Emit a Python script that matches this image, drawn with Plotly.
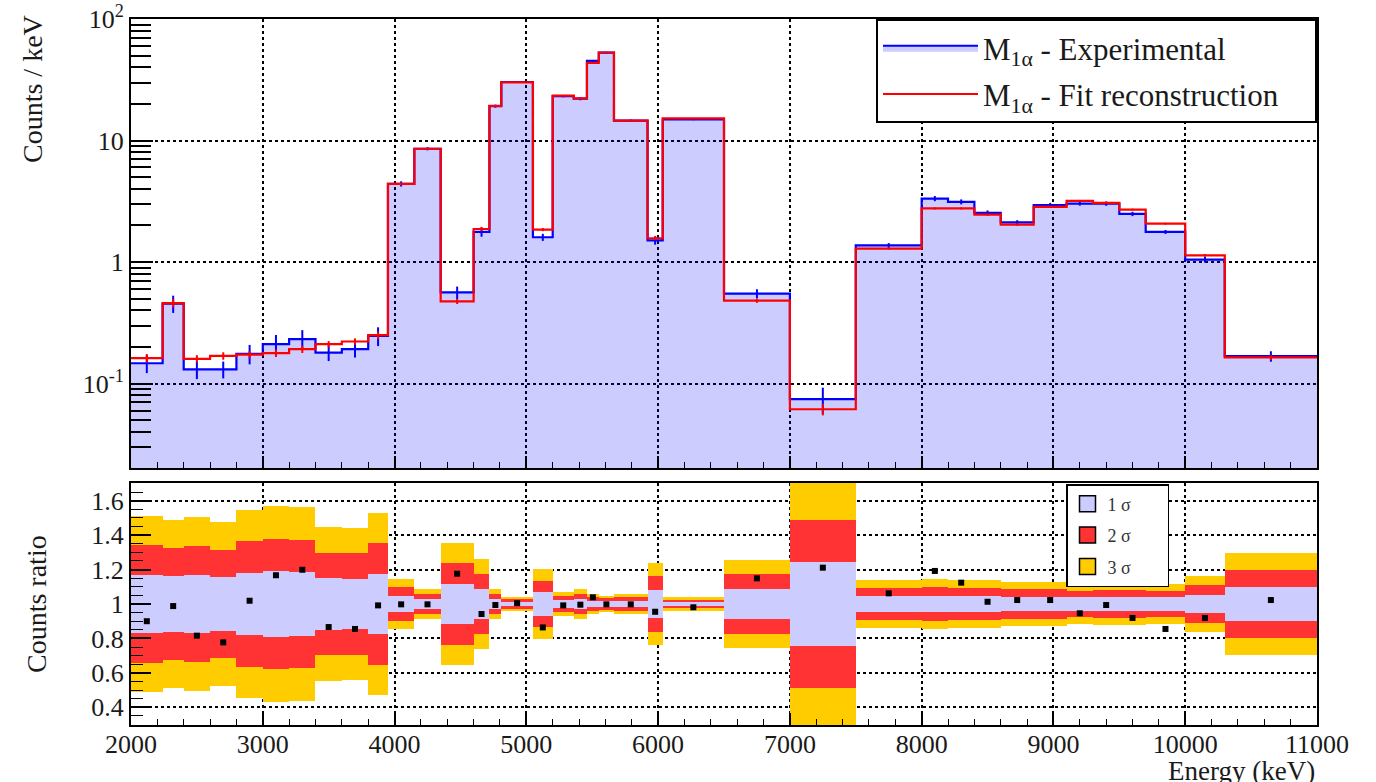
import numpy as np
import plotly.graph_objects as go

# ---------------- data ----------------
bin_edges = [2000, 2240, 2400, 2600, 2800, 3000, 3200, 3400, 3600, 3800, 3950,
             4150, 4350, 4600, 4720, 4810, 5050, 5200, 5360, 5460, 5550, 5665,
             5920, 6035, 6500, 7000, 7500, 8000, 8200, 8400, 8600, 8850, 9100,
             9300, 9500, 9700, 10000, 10300, 11000]

experimental = [0.147, 0.455, 0.131, 0.131, 0.176, 0.211, 0.232, 0.180, 0.192, 0.247,
                4.40, 8.56, 0.562, 1.77, 19.2, 30.3, 1.60, 23.2, 22.1, 45.2,
                52.9, 14.6, 1.51, 14.9, 0.550, 0.0744, 1.37, 3.33, 3.13, 2.54,
                2.12, 2.94, 3.03, 3.03, 2.49, 1.77, 1.047, 0.168]

fit_reco = [0.162, 0.460, 0.160, 0.169, 0.173, 0.178, 0.192, 0.211, 0.222, 0.250,
            4.40, 8.56, 0.475, 1.87, 19.3, 30.1, 1.85, 23.4, 22.2, 43.5,
            53.0, 14.6, 1.57, 15.2, 0.481, 0.0615, 1.29, 2.76, 2.76, 2.46,
            2.03, 2.84, 3.19, 3.07, 2.70, 2.07, 1.135, 0.164]

# relative 1-sigma uncertainty of each bin (half width of 1 sigma band)
sigma_rel = [0.170, 0.162, 0.169, 0.158, 0.182, 0.190, 0.187, 0.149, 0.147, 0.176,
             0.049, 0.030, 0.118, 0.087, 0.029, 0.014, 0.067, 0.023, 0.030, 0.019,
             0.016, 0.019, 0.080, 0.013, 0.086, 0.243, 0.046, 0.049, 0.047, 0.047,
             0.043, 0.043, 0.039, 0.041, 0.041, 0.038, 0.054, 0.098]

# relative uncertainty of the fit reconstruction
fit_err_rel = [0.08, 0.08, 0.07, 0.07, 0.07, 0.07, 0.07, 0.06, 0.06, 0.07,
               0.02, 0.015, 0.05, 0.04, 0.015, 0.007, 0.03, 0.01, 0.015, 0.01,
               0.008, 0.01, 0.035, 0.006, 0.04, 0.11, 0.02, 0.02, 0.02, 0.02,
               0.02, 0.02, 0.018, 0.018, 0.018, 0.017, 0.025, 0.045]

counts_ratio = [0.900, 0.988, 0.816, 0.777, 1.019, 1.167, 1.199, 0.866, 0.855, 0.992,
                0.998, 0.998, 1.176, 0.942, 0.994, 1.005, 0.864, 0.992, 0.996, 1.039,
                0.998, 0.998, 0.955, 0.981, 1.149, 1.211, 1.062, 1.192, 1.124, 1.013,
                1.023, 1.023, 0.946, 0.994, 0.919, 0.855, 0.919, 1.023]

x_ticks = [2000, 3000, 4000, 5000, 6000, 7000, 8000, 9000, 10000, 11000]
y_top_ticks = [0.1, 1, 10, 100]
y_top_labels = ["10<sup>-1</sup>", "1", "10", "10<sup>2</sup>"]
y_top_minor = [m * d for d in (0.01, 0.1, 1, 10) for m in range(2, 10)]
y_bot_ticks = [0.4, 0.6, 0.8, 1.0, 1.2, 1.4, 1.6]
y_bot_labels = ["0.4", "0.6", "0.8", "1", "1.2", "1.4", "1.6"]

# ---------------- derived ----------------
edges = np.array(bin_edges, dtype=float)
centers = 0.5 * (edges[:-1] + edges[1:])
widths = edges[1:] - edges[:-1]
exp_v = np.array(experimental)
fit_v = np.array(fit_reco)
sig = np.array(sigma_rel)

LAV = "#ccccff"
BLUE = "#0000ff"
RED = "#ff0000"
BAND_RED = "#ff3333"
GOLD = "#ffcc00"
FONT = "Liberation Serif, Times New Roman, Times, serif"
TXT = "#1a1a1a"
NB = "&nbsp;"

step_x = list(edges)
step_exp = list(exp_v) + [exp_v[-1]]
step_fit = list(fit_v) + [fit_v[-1]]

# filled polygon for experimental histogram
floor_val = 1e-3
px = [edges[0]]
py = [floor_val]
for i in range(len(exp_v)):
    px += [edges[i], edges[i + 1]]
    py += [exp_v[i], exp_v[i]]
px += [edges[-1], edges[0]]
py += [floor_val, floor_val]

fig = go.Figure()

# ---- top panel ----
fig.add_trace(go.Scatter(x=px, y=py, mode="lines", fill="toself",
                         fillcolor="rgba(0,0,255,0.2)", line=dict(width=0),
                         hoverinfo="skip", showlegend=False,
                         xaxis="x", yaxis="y"))
fig.add_trace(go.Scatter(x=step_x, y=step_exp, mode="lines", line_shape="hv",
                         line=dict(color=BLUE, width=2.2), showlegend=False,
                         xaxis="x", yaxis="y"))
fig.add_trace(go.Scatter(x=centers, y=exp_v, mode="markers",
                         marker=dict(size=1, color=BLUE),
                         error_y=dict(type="data", array=exp_v * sig, color=BLUE,
                                      thickness=2, width=0),
                         showlegend=False, xaxis="x", yaxis="y"))
fig.add_trace(go.Scatter(x=step_x, y=step_fit, mode="lines", line_shape="hv",
                         line=dict(color=RED, width=2.2), showlegend=False,
                         xaxis="x", yaxis="y"))
fig.add_trace(go.Scatter(x=centers, y=fit_v, mode="markers",
                         marker=dict(size=1, color=RED),
                         error_y=dict(type="data", array=fit_v * np.array(fit_err_rel),
                                      color=RED, thickness=2, width=0),
                         showlegend=False, xaxis="x", yaxis="y"))

# legend entries (top)
fig.add_trace(go.Scatter(x=[None], y=[None], mode="lines", fill="toself",
                         fillcolor=LAV, line=dict(color=BLUE, width=2),
                         name="M<sub>1α</sub> - Experimental", legend="legend",
                         legendgroup="exp", xaxis="x", yaxis="y"))
fig.add_trace(go.Scatter(x=[None], y=[None], mode="lines",
                         line=dict(color=RED, width=2),
                         name="M<sub>1α</sub> - Fit reconstruction" + NB * 4,
                         legend="legend", legendgroup="fit", xaxis="x", yaxis="y"))

# ---- bottom panel ----
for k, col in [(3, GOLD), (2, BAND_RED), (1, LAV)]:
    fig.add_trace(go.Bar(x=centers, y=2 * k * sig, base=1 - k * sig, width=widths,
                         marker=dict(color=col, line=dict(width=0)),
                         showlegend=False, hoverinfo="skip",
                         xaxis="x2", yaxis="y2"))
for col, nm in [(LAV, "1 σ"), (BAND_RED, "2 σ"), (GOLD, "3 σ")]:
    fig.add_trace(go.Scatter(x=[None], y=[None], name=nm + NB * 7, mode="markers",
                             marker=dict(symbol="square", size=16, color=col,
                                         line=dict(color="black", width=1.5)),
                             legend="legend2", legendgroup=nm,
                             xaxis="x2", yaxis="y2"))
fig.add_trace(go.Scatter(x=centers, y=counts_ratio, mode="markers",
                         marker=dict(symbol="square", size=6, color="black"),
                         showlegend=False, xaxis="x2", yaxis="y2"))

# ---------------- layout ----------------
TICKFONT = dict(family=FONT, size=26, color=TXT)
axis_common = dict(showline=True, linecolor="black", linewidth=2, mirror=True,
                   ticks="inside", tickcolor="black", automargin=False,
                   showgrid=True, gridcolor="black", griddash="dot", gridwidth=1.5,
                   zeroline=False, tickfont=TICKFONT)

top_dom = [1 - (468 - 19) / 706, 1]
bot_dom = [0, (725 - 483) / 706]

fig.update_layout(
    width=1376, height=782,
    margin=dict(l=131, r=59, t=19, b=57, autoexpand=False),
    paper_bgcolor="white", plot_bgcolor="white",
    barmode="overlay", bargap=0,
    font=dict(family=FONT, size=26, color=TXT),
    xaxis=dict(axis_common, domain=[0, 1], anchor="y", range=[2000, 11000],
               tickvals=x_ticks, showticklabels=False, ticklen=12, tickwidth=1.5,
               minor=dict(ticks="inside", ticklen=6, dtick=200, tick0=2000,
                          tickcolor="black", tickwidth=1, showgrid=False)),
    yaxis=dict(axis_common, domain=top_dom, anchor="x", type="log",
               range=[np.log10(0.0202), 2], tickvals=y_top_ticks,
               ticktext=y_top_labels, ticklen=22, tickwidth=1.5,
               minor=dict(ticks="inside", ticklen=20, tickvals=y_top_minor,
                          tickcolor="black", tickwidth=1.5, showgrid=False)),
    xaxis2=dict(axis_common, domain=[0, 1], anchor="y2", range=[2000, 11000],
                tickvals=x_ticks, ticktext=[str(v) for v in x_ticks],
                ticklen=12, tickwidth=1.5, ticklabelstandoff=-5,
                minor=dict(ticks="inside", ticklen=6, dtick=200, tick0=2000,
                           tickcolor="black", tickwidth=1, showgrid=False)),
    yaxis2=dict(axis_common, domain=bot_dom, anchor="x2", range=[0.297, 1.703],
                tickvals=y_bot_ticks, ticktext=y_bot_labels, ticklen=20, tickwidth=1.5,
                minor=dict(ticks="inside", ticklen=12, dtick=0.05, tick0=0.3,
                           tickcolor="black", tickwidth=1, showgrid=False)),
    legend=dict(x=1, y=1, xanchor="right", yanchor="top", xref="paper", yref="paper",
                bgcolor="white", bordercolor="black", borderwidth=2,
                font=dict(family=FONT, size=31, color=TXT),
                itemwidth=95, tracegroupgap=3, traceorder="grouped"),
    legend2=dict(x=(1066 - 131) / 1186, y=(725 - 484) / 706, xanchor="left",
                 yanchor="top", xref="paper", yref="paper",
                 bgcolor="white", bordercolor="black", borderwidth=1.5,
                 font=dict(family=FONT, size=18, color="#333"),
                 itemwidth=30, tracegroupgap=5, traceorder="grouped"),
    annotations=[
        dict(text="Counts / keV", xref="paper", yref="paper",
             x=(33 - 131) / 1186, y=(725 - 89) / 706, textangle=-90,
             showarrow=False, xanchor="center", yanchor="middle",
             font=dict(family=FONT, size=28, color=TXT)),
        dict(text="Counts ratio", xref="paper", yref="paper",
             x=(36 - 131) / 1186, y=(725 - 604) / 706, textangle=-90,
             showarrow=False, xanchor="center", yanchor="middle",
             font=dict(family=FONT, size=28, color=TXT)),
        dict(text="Energy (keV)", xref="paper", yref="paper",
             x=1, y=(725 - 771) / 706, xanchor="right", yanchor="middle",
             showarrow=False, font=dict(family=FONT, size=27, color=TXT)),
    ],
)

fig.write_html("out.html")
